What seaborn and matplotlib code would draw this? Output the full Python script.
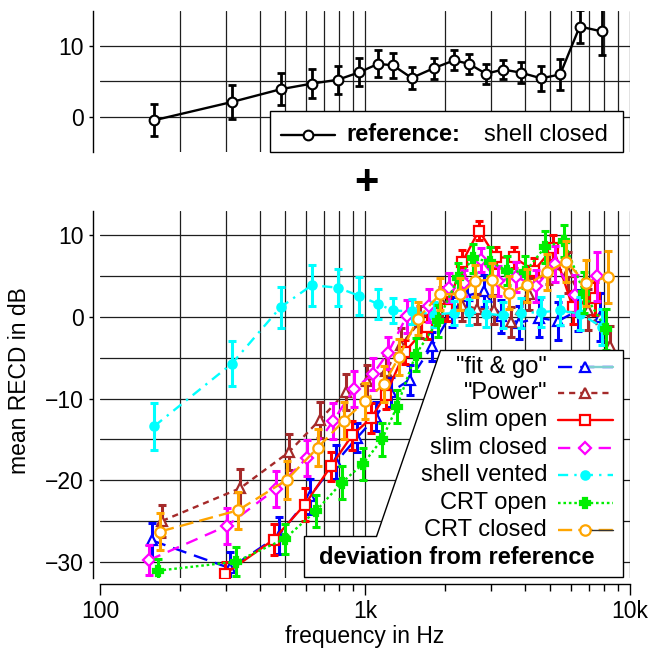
import numpy as np
import pandas as pd
import matplotlib
matplotlib.use("Agg")
import matplotlib.pyplot as plt
from matplotlib.patches import Polygon, Rectangle
from matplotlib.lines import Line2D
from matplotlib.ticker import LogLocator, NullFormatter
import seaborn as sns

nan = np.nan

# frequencies (Hz)
freq = [160, 315, 480, 630, 790, 950, 1120, 1275, 1500, 1820, 2170, 2470,
        2860, 3320, 3880, 4620, 5450, 6460, 7840]

# reference: shell closed
ref_mean = [-0.5, 2.1, 3.9, 4.7, 5.25, 6.3, 7.5, 7.3, 5.5, 6.9, 8.0, 7.5,
            6.1, 6.7, 6.25, 5.45, 6.0, 12.8, 12.1]
ref_sd = [2.3, 2.4, 2.3, 2.1, 2.0, 2.0, 1.9, 1.8, 1.6, 1.5, 1.4, 1.4,
          1.4, 1.4, 1.5, 1.75, 2.2, 2.4, 3.3]

# deviations from reference
fitgo_mean = [-27.4, -30.8, -26.8, -22.0, -17.8, -14.8, -12.2, -9.2, -7.7, -3.6, 0.6, 2.6,
              3.2, 0.1, -0.7, -0.1, -0.5, 0.8, 0.0]
fitgo_sd = [2.1, 2.0, 2.3, 2.2, 2.1, 1.8, 1.8, 1.8, 1.8, 1.8, 1.8, 1.8,
            2.0, 2.0, 2.0, 2.3, 2.3, 2.5, 3.0]

power_mean = [-25.0, -21.0, -16.6, -12.6, -9.2, -7.9, -6.6, -3.4, -0.6, 1.7, 1.5, 1.0,
              0.9, -0.6, 2.8, 6.2, 5.5, 0.9, -3.6]
power_sd = [2.0, 2.4, 2.2, 2.2, 2.2, 2.0, 2.0, 2.0, 2.0, 2.0, 2.0, 1.8,
            1.8, 1.8, 2.0, 2.2, 2.5, 2.5, 2.5]

slimopen_mean = [nan, -31.5, -27.3, -23.0, -18.3, -14.5, -12.4, -9.5, -4.3, -1.2, 1.0, 6.7,
                 10.6, 7.3, 7.3, 5.7, 8.5, 1.2, 2.3]
slimopen_sd = [nan, 1.5, 1.9, 2.0, 1.8, 1.8, 1.8, 1.8, 1.5, 1.5, 1.5, 1.5,
               1.2, 1.3, 1.3, 1.5, 1.5, 2.0, 2.0]

slimclosed_mean = [-29.8, -25.6, -21.1, -17.3, -12.8, -8.8, -7.0, -4.4, 0.1, 1.4, 3.6, 4.2,
                   7.0, 4.4, 4.9, 3.8, 6.5, 2.7, 5.0]
slimclosed_sd = [1.8, 2.2, 2.2, 2.2, 2.2, 2.2, 2.0, 2.0, 2.0, 2.0, 1.8, 1.6,
                 1.5, 1.8, 1.8, 2.0, 2.2, 2.5, 3.0]

shellvent_mean = [-13.4, -5.7, 1.2, 3.9, 3.6, 2.6, 1.6, 0.8, 0.7, 0.3, 0.5, 0.6,
                  0.4, 0.2, 0.5, 0.6, 0.8, 0.4, -1.2]
shellvent_sd = [2.9, 2.8, 2.5, 2.5, 2.3, 2.3, 1.8, 1.5, 1.5, 1.5, 1.5, 1.6,
                1.6, 1.6, 1.8, 1.8, 1.8, 2.0, 2.2]

crtopen_mean = [-31.1, -30.0, -27.2, -23.8, -20.3, -18.0, -15.0, -11.0, -4.6, -0.5, 4.8, 7.2,
                6.8, 5.7, 5.5, 8.6, 9.3, 3.0, -1.5]
crtopen_sd = [1.4, 1.8, 1.8, 2.0, 2.0, 2.0, 2.0, 2.0, 2.0, 2.0, 1.8, 1.8,
              1.8, 1.8, 2.0, 2.0, 2.0, 2.5, 2.5]

crtclosed_mean = [-26.3, -23.7, -20.0, -16.0, -12.7, -10.3, -8.2, -4.9, -0.2, 2.8, 2.8, 4.4,
                  4.6, 3.0, 3.9, 5.5, 6.8, 4.2, 4.9]
crtclosed_sd = [2.3, 2.3, 2.3, 2.3, 2.3, 2.2, 2.2, 2.2, 2.0, 2.0, 2.0, 2.0,
                2.0, 2.0, 2.0, 2.2, 2.5, 2.8, 3.2]

series = [
    ('"fit & go"', fitgo_mean, fitgo_sd),
    ('"Power"', power_mean, power_sd),
    ('slim open', slimopen_mean, slimopen_sd),
    ('slim closed', slimclosed_mean, slimclosed_sd),
    ('shell vented', shellvent_mean, shellvent_sd),
    ('CRT open', crtopen_mean, crtopen_sd),
    ('CRT closed', crtclosed_mean, crtclosed_sd),
]

# style per series: colour, line style, marker, face, size, horizontal shift (px on the log axis)
styles = {
    '"fit & go"': dict(c='#0000ff', ls=(0, (6.0, 3.4)), m='^', fc='white', ms=7.5, shift=-2),
    '"Power"': dict(c='#a52a2a', ls=(0, (2.6, 2.1)), m='^', fc='white', ms=7.5, shift=8),
    'slim open': dict(c='#ff0000', ls='-', m='s', fc='white', ms=7, shift=-7),
    'slim closed': dict(c='#ff00ff', ls=(0, (5.2, 3.4)), m='D', fc='white', ms=6, shift=-5),
    'shell vented': dict(c='#00ffff', ls=(0, (4.3, 2.6, 1, 2.6)), m='o', fc='#00ffff', ms=6, shift=0),
    'CRT open': dict(c='#00ee00', ls=(0, (1.1, 1.2)), m='P', fc='#00ee00', ms=7, shift=4),
    'CRT closed': dict(c='#ffa500', ls=(0, (6.0, 2.6)), m='o', fc='white', ms=7.5, shift=6),
}

sns.set_style("ticks")
plt.rcParams['font.family'] = ['Liberation Sans', 'DejaVu Sans']
plt.rcParams['axes.unicode_minus'] = True
for k in ('text.color', 'axes.labelcolor', 'xtick.color', 'ytick.color'):
    plt.rcParams[k] = 'black'

fig = plt.figure(figsize=(6.53, 6.53), dpi=100)
W = 653.0
ax_top = fig.add_axes([100 / W, 1 - 152 / W, 530 / W, 141 / W])
ax = fig.add_axes([100 / W, 1 - 578 / W, 530 / W, 367 / W])

grid_f = [k * 10 ** d for d in (2, 3) for k in range(1, 10)][1:] + [10000]
gcol = '#1e1e1e'


def setup(a, ylim, ygrid, yticks):
    a.set_xscale('log')
    a.set_xlim(100, 10000)
    a.set_ylim(*ylim)
    for f in grid_f:
        a.axvline(f, color=gcol, lw=0.9, zorder=0)
    for y in ygrid:
        a.axhline(y, color=gcol, lw=0.9, zorder=0)
    for s in ('top', 'right'):
        a.spines[s].set_visible(False)
    a.spines['left'].set_position(('outward', 5))
    a.spines['left'].set_linewidth(1.0)
    a.spines['left'].set_color('black')
    a.set_yticks(yticks)
    a.tick_params(axis='y', direction='out', length=3, width=1, pad=3.5,
                  labelsize=16.5, color='black', labelcolor='black')


setup(ax_top, (-5, 15), [0, 5, 10], [0, 10])
setup(ax, (-32, 13), list(range(-30, 11, 5)), [-30, -20, -10, 0, 10])

ax_top.spines['bottom'].set_visible(False)
ax_top.tick_params(axis='x', which='both', bottom=False, labelbottom=False)

ax.spines['bottom'].set_position(('outward', 4.5))
ax.spines['bottom'].set_linewidth(1.0)
ax.spines['bottom'].set_color('black')
ax.set_xticks([100, 1000, 10000], ['100', '1k', '10k'])
ax.xaxis.set_minor_locator(LogLocator(base=10, subs=np.arange(2, 10)))
ax.xaxis.set_minor_formatter(NullFormatter())
ax.tick_params(axis='x', which='major', direction='out', length=8, width=1,
               pad=3, labelsize=16.5, color='black', labelcolor='black')
ax.tick_params(axis='x', which='minor', direction='out', length=5, width=1,
               color='black')

# reference curve (top panel)
ref_df = pd.DataFrame({'f': freq, 'v': ref_mean, 'sd': ref_sd})
ax_top.errorbar(ref_df['f'], ref_df['v'], yerr=ref_df['sd'], fmt='none', ecolor='black',
                elinewidth=2.0, capsize=3, capthick=2.0, zorder=3)
sns.lineplot(data=ref_df, x='f', y='v', ax=ax_top, color='black', lw=1.7, marker='o',
             ms=7, mfc='white', mec='black', mew=1.5, errorbar=None, sort=False,
             legend=False, zorder=4)
ax_top.set_xlabel('')
ax_top.set_ylabel('')

# deviation curves (bottom panel)
for i, (name, mean, sd) in enumerate(series):
    st = styles[name]
    fac = 10 ** (st['shift'] / 265.0)
    d = pd.DataFrame({'f': np.array(freq) * fac, 'v': mean, 'sd': sd}).dropna()
    z = 3 + i
    ax.errorbar(d['f'], d['v'], yerr=d['sd'], fmt='none', ecolor=st['c'],
                elinewidth=2.2, capsize=2.8, capthick=2.2, zorder=z)
    sns.lineplot(data=d, x='f', y='v', ax=ax, color=st['c'], linestyle=st['ls'], lw=1.7,
                 marker=st['m'], ms=st['ms'], mfc=st['fc'], mec=st['c'], mew=1.6,
                 errorbar=None, sort=False, legend=False, zorder=z + 0.5)
ax.set_xlabel('frequency in Hz', fontsize=16.5, labelpad=2, color='black')
ax.set_ylabel('')

# top legend box
ax_top.add_patch(Rectangle((0.3208, 0.0), 0.666, 0.2908, transform=ax_top.transAxes,
                           facecolor='white', edgecolor='black', lw=1.0, zorder=10,
                           clip_on=False))
ty = 0.1206
ax_top.add_line(Line2D([0.3415, 0.4434], [ty, ty], color='black', lw=1.7,
                       transform=ax_top.transAxes, zorder=11, clip_on=False))
ax_top.add_line(Line2D([0.3925], [ty], marker='o', ms=7, mfc='white', mec='black',
                       mew=1.5, transform=ax_top.transAxes, zorder=12, clip_on=False))
ax_top.text(0.464, ty, 'reference:', fontsize=17, fontweight='bold', ha='left',
            va='center', transform=ax_top.transAxes, zorder=12)
ax_top.text(0.9585, ty, 'shell closed', fontsize=17, ha='right', va='center',
            transform=ax_top.transAxes, zorder=12)

# bottom legend (slanted box)
poly = Polygon([(0.6415, 0.6213), (0.9868, 0.6213), (0.9868, 0.0027), (0.3849, 0.0027),
                (0.3849, 0.1144), (0.5208, 0.1144)], closed=True, transform=ax.transAxes,
               facecolor='white', edgecolor='black', lw=1.0, zorder=20, clip_on=False)
ax.add_patch(poly)
rows = [0.575, 0.504, 0.4305, 0.354, 0.2807, 0.2044, 0.1308]
x0, x1, xm = 0.8642, 0.9679, 0.915
for (name, _, _), ry in zip(series, rows):
    st = styles[name]
    ax.text(0.8434, ry, name, fontsize=17, ha='right', va='center',
            transform=ax.transAxes, zorder=22)
    ax.add_line(Line2D([x0, x1], [ry, ry], color=st['c'], linestyle=st['ls'], lw=1.7,
                       transform=ax.transAxes, zorder=21, clip_on=False))
    if name == '"fit & go"':
        ax.add_line(Line2D([xm, x1], [ry, ry], color='#7fd0d0', lw=1.7,
                           transform=ax.transAxes, zorder=21.5, clip_on=False))
    if name == 'CRT closed':
        ax.add_line(Line2D([xm, x1], [ry, ry], color='#333333', lw=1.0,
                           transform=ax.transAxes, zorder=21.5, clip_on=False))
    ax.add_line(Line2D([xm], [ry], marker=st['m'], ms=st['ms'], mfc=st['fc'], mec=st['c'],
                       mew=1.6, transform=ax.transAxes, zorder=22, clip_on=False))
ax.text(0.6736, 0.0545, 'deviation from reference', fontsize=17, fontweight='bold',
        ha='center', va='center', transform=ax.transAxes, zorder=22)

# plus sign between panels and y label
fig.text(366 / W, 1 - 183 / W, '+', fontsize=30, fontweight='bold', ha='center', va='center')
fig.text(20 / W, 1 - 381 / W, 'mean RECD in dB', rotation=90, fontsize=16.5,
         ha='center', va='center')

fig.savefig('out.png', dpi=100)
